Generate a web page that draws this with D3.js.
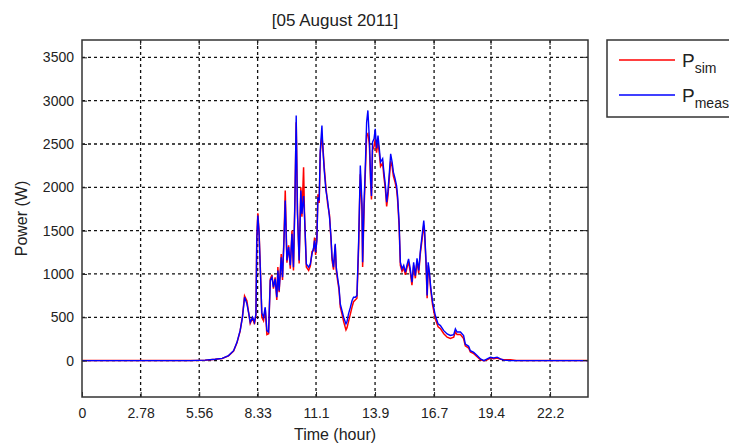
<!DOCTYPE html>
<html>
<head>
<meta charset="utf-8">
<script src="https://cdn.jsdelivr.net/npm/d3@7"></script>
<style>
  body { margin: 0; background: #fff; }
  text { font-family: "Liberation Sans", Arial, sans-serif; }
</style>
</head>
<body>
<div id="chart"></div>
<script>
//---------------------Data

const titleText = "[05 August 2011]"

// time in hours
const hours = [0, 5.13, 5.84, 6.32, 6.65, 6.95, 7.19, 7.35, 7.5, 7.61, 7.71, 7.82, 7.9, 7.98, 8.09, 8.18, 8.25, 8.29, 8.34, 8.4,
  8.47, 8.53, 8.61, 8.69, 8.77, 8.85, 8.93, 9.01, 9.08, 9.16, 9.24, 9.29, 9.35, 9.45, 9.51, 9.58, 9.64, 9.72, 9.8, 9.88,
  9.96, 10.03, 10.1, 10.16, 10.22, 10.3, 10.38, 10.43, 10.51, 10.55, 10.64, 10.75, 10.83, 10.91, 10.98, 11.03, 11.08, 11.14, 11.19, 11.25,
  11.3, 11.38, 11.43, 11.49, 11.57, 11.65, 11.74, 11.81, 11.86, 11.93, 12.01, 12.06, 12.12, 12.19, 12.25, 12.33, 12.41, 12.52, 12.57, 12.64,
  12.73, 12.81, 12.88, 12.96, 13.04, 13.12, 13.17, 13.2, 13.28, 13.31, 13.38, 13.44, 13.5, 13.56, 13.63, 13.69, 13.73, 13.78, 13.85, 13.91,
  13.97, 14.04, 14.1, 14.16, 14.26, 14.32, 14.39, 14.45, 14.51, 14.58, 14.64, 14.71, 14.77, 14.85, 14.92, 14.97, 15.04, 15.1, 15.18, 15.26,
  15.34, 15.42, 15.49, 15.57, 15.65, 15.73, 15.81, 15.89, 15.97, 16.05, 16.13, 16.21, 16.25, 16.32, 16.37, 16.42, 16.48, 16.54, 16.63, 16.76,
  16.89, 17.0, 17.16, 17.32, 17.47, 17.63, 17.71, 17.79, 17.95, 18.1, 18.18, 18.34, 18.42, 18.58, 18.74, 18.9, 19.06, 19.22, 19.37, 19.53,
  19.69, 19.85, 20.0, 20.32, 20.6, 24]

// measured power (W)
const pMeas = [0, 0, 5, 15, 25, 58, 115, 211, 346, 500, 731, 658, 558, 442, 500, 442, 539, 1386, 1674, 1463,
  962, 550, 500, 616, 346, 330, 924, 962, 847, 943, 731, 1039, 808, 1193, 962, 1386, 1848, 1155, 1309, 1100,
  1463, 1078, 1848, 2829, 1694, 1155, 1963, 1694, 1900, 1694, 1116, 1078, 1116, 1232, 1300, 1386, 1250, 1386, 1886, 1848,
  2425, 2714, 2425, 2194, 1963, 1848, 1655, 1424, 1193, 1078, 1347, 1078, 963, 847, 655, 578, 500, 424, 450, 540,
  616, 693, 731, 731, 750, 1366, 1905, 2252, 1810, 1135, 1828, 2252, 2752, 2887, 2560, 2098, 1900, 2521, 2560, 2675,
  2450, 2598, 2450, 2290, 2330, 2175, 2021, 1828, 1950, 2175, 2387, 2290, 2175, 2100, 2021, 1900, 1597, 1135, 1059, 1100,
  1020, 1110, 1174, 1059, 904, 1135, 980, 1180, 1040, 1270, 1443, 1617, 1500, 1135, 751, 1135, 1020, 847, 674, 520,
  424, 404, 346, 308, 290, 300, 366, 330, 330, 289, 192, 165, 115, 95, 60, 20, 0, 20, 38, 30,
  40, 20, 5, 0, 0, 0]

// simulated power (W)
const pSim = [0, 0, 5, 15, 25, 55, 110, 205, 340, 510, 745, 690, 560, 430, 495, 420, 520, 1420, 1700, 1480,
  990, 500, 460, 600, 300, 310, 940, 990, 830, 960, 700, 1080, 790, 1230, 930, 1420, 1963, 1130, 1330, 1060,
  1500, 1040, 1880, 2750, 1720, 1120, 2000, 1660, 2232, 1720, 1080, 1040, 1090, 1260, 1270, 1420, 1220, 1410, 1920, 1820,
  2390, 2600, 2450, 2230, 2000, 1810, 1680, 1400, 1160, 1050, 1330, 1040, 930, 820, 620, 540, 450, 354, 380, 450,
  540, 620, 680, 700, 720, 1300, 1850, 2150, 1740, 1080, 1760, 2180, 2600, 2620, 2500, 2050, 1860, 2430, 2470, 2560,
  2400, 2520, 2400, 2240, 2280, 2120, 1980, 1780, 1900, 2120, 2300, 2240, 2130, 2060, 1980, 1850, 1560, 1100, 1030, 1070,
  990, 1080, 1140, 1020, 870, 1100, 950, 1150, 1010, 1240, 1400, 1560, 1460, 1100, 720, 1100, 990, 820, 640, 480,
  390, 370, 310, 270, 255, 270, 330, 300, 300, 255, 170, 145, 100, 80, 45, 10, 0, 10, 30, 22,
  30, 15, 10, 10, 0, 0]

// axis ticks
const xTickValues = [0, 2.78, 5.56, 8.33, 11.1, 13.9, 16.7, 19.4, 22.2]
const xTickLabels = ["0", "2.78", "5.56", "8.33", "11.1", "13.9", "16.7", "19.4", "22.2"]
const yTickValues = [0, 500, 1000, 1500, 2000, 2500, 3000, 3500]

const seriesNames = ["sim", "meas"]
const seriesColors = ["#ff0000", "#0000ff"]

//----------------------Dimensions

let dimensions = {
    width: 729,
    height: 443,
    leftMargin: 82,
    rightMargin: 141,
    topMargin: 40,
    bottomMargin: 46
}
dimensions.ctrWidth = dimensions.width - dimensions.leftMargin - dimensions.rightMargin
dimensions.ctrHeight = dimensions.height - dimensions.topMargin - dimensions.bottomMargin

const svg = d3.select("#chart")
    .append("svg")
    .attr("width", dimensions.width)
    .attr("height", dimensions.height)

svg.append("rect")
    .attr("width", dimensions.width)
    .attr("height", dimensions.height)
    .attr("fill", "#fff")

const ctr = svg.append("g")
    .attr("transform", `translate(${dimensions.leftMargin},${dimensions.topMargin})`)

//----------------------Scales

// x axis runs over one full day (86400 s), ticks every 10000 s
const xScale = d3.scaleLinear()
    .domain([0, 24])
    .range([0, dimensions.ctrWidth])

const yScale = d3.scaleLinear()
    .domain([-420, 3700])
    .range([dimensions.ctrHeight, 0])

//----------------------Grid

ctr.append("g")
    .selectAll("line")
    .data(xTickValues.slice(1))
    .join("line")
    .attr("x1", d => xScale(d))
    .attr("x2", d => xScale(d))
    .attr("y1", 0)
    .attr("y2", dimensions.ctrHeight)
    .attr("stroke", "#111")
    .attr("stroke-width", 1.3)
    .style("stroke-dasharray", "3,3")

ctr.append("g")
    .selectAll("line")
    .data(yTickValues)
    .join("line")
    .attr("x1", 0)
    .attr("x2", dimensions.ctrWidth)
    .attr("y1", d => yScale(d))
    .attr("y2", d => yScale(d))
    .attr("stroke", "#111")
    .attr("stroke-width", 1.3)
    .style("stroke-dasharray", "3,3")

//----------------------Lines

const lineGenerator = d3.line()
    .x((d, i) => xScale(hours[i]))
    .y(d => yScale(d))

ctr.append("path")
    .datum(pSim)
    .attr("d", lineGenerator)
    .attr("fill", "none")
    .attr("stroke", seriesColors[0])
    .attr("stroke-width", 1.5)

ctr.append("path")
    .datum(pMeas)
    .attr("d", lineGenerator)
    .attr("fill", "none")
    .attr("stroke", seriesColors[1])
    .attr("stroke-width", 1.4)

//----------------------Axes

const xAxis = d3.axisBottom(xScale)
    .tickValues(xTickValues)
    .tickFormat((d, i) => xTickLabels[i])
    .tickSizeInner(-5)
    .tickSizeOuter(0)
    .tickPadding(11)

ctr.append("g")
    .attr("transform", `translate(0,${dimensions.ctrHeight})`)
    .call(xAxis)
    .call(g => g.select(".domain").remove())
    .call(g => g.selectAll("text").style("font-size", "14px").attr("fill", "#222"))
    .call(g => g.selectAll("line").attr("stroke", "#222"))

const yAxis = d3.axisLeft(yScale)
    .tickValues(yTickValues)
    .tickFormat(d3.format("d"))
    .tickSizeInner(-5)
    .tickSizeOuter(0)
    .tickPadding(8)

ctr.append("g")
    .call(yAxis)
    .call(g => g.select(".domain").remove())
    .call(g => g.selectAll("text").style("font-size", "14px").attr("fill", "#222"))
    .call(g => g.selectAll("line").attr("stroke", "#222"))

// ticks on top and right side as well
ctr.append("g")
    .selectAll("line")
    .data(xTickValues.slice(1))
    .join("line")
    .attr("x1", d => xScale(d))
    .attr("x2", d => xScale(d))
    .attr("y1", 0)
    .attr("y2", 5)
    .attr("stroke", "#222")

ctr.append("g")
    .selectAll("line")
    .data(yTickValues)
    .join("line")
    .attr("x1", dimensions.ctrWidth - 5)
    .attr("x2", dimensions.ctrWidth)
    .attr("y1", d => yScale(d))
    .attr("y2", d => yScale(d))
    .attr("stroke", "#222")

// box
ctr.append("rect")
    .attr("width", dimensions.ctrWidth)
    .attr("height", dimensions.ctrHeight)
    .attr("fill", "none")
    .attr("stroke", "#333")
    .attr("stroke-width", 1.5)

//----------------------Labels

svg.append("text")
    .attr("x", dimensions.leftMargin + dimensions.ctrWidth / 2)
    .attr("y", 26)
    .attr("text-anchor", "middle")
    .style("font-size", "17px")
    .attr("fill", "#222")
    .text(titleText)

svg.append("text")
    .attr("x", dimensions.leftMargin + dimensions.ctrWidth / 2)
    .attr("y", 440)
    .attr("text-anchor", "middle")
    .style("font-size", "16px")
    .attr("fill", "#222")
    .text("Time (hour)")

svg.append("text")
    .attr("transform", `translate(27,${dimensions.topMargin + dimensions.ctrHeight / 2}) rotate(-90)`)
    .attr("text-anchor", "middle")
    .style("font-size", "16px")
    .attr("fill", "#222")
    .text("Power (W)")

//----------------------Legend

const legend = svg.append("g")
    .attr("transform", "translate(607,40)")

legend.append("rect")
    .attr("width", 170)
    .attr("height", 77)
    .attr("fill", "#fff")
    .attr("stroke", "#333")
    .attr("stroke-width", 1.5)

const items = legend.selectAll("g.item")
    .data(seriesNames)
    .join("g")
    .classed("item", true)
    .attr("transform", (d, i) => `translate(0,${20 + i * 35})`)

items.append("line")
    .attr("x1", 12)
    .attr("x2", 68)
    .attr("stroke", (d, i) => seriesColors[i])
    .attr("stroke-width", 1.4)

const label = items.append("text")
    .attr("x", 75)
    .attr("y", 7)
    .attr("fill", "#222")
    .style("font-size", "19px")

label.append("tspan").text("P")
label.append("tspan")
    .attr("dy", 6)
    .style("font-size", "14px")
    .text(d => d)
</script>
</body>
</html>
